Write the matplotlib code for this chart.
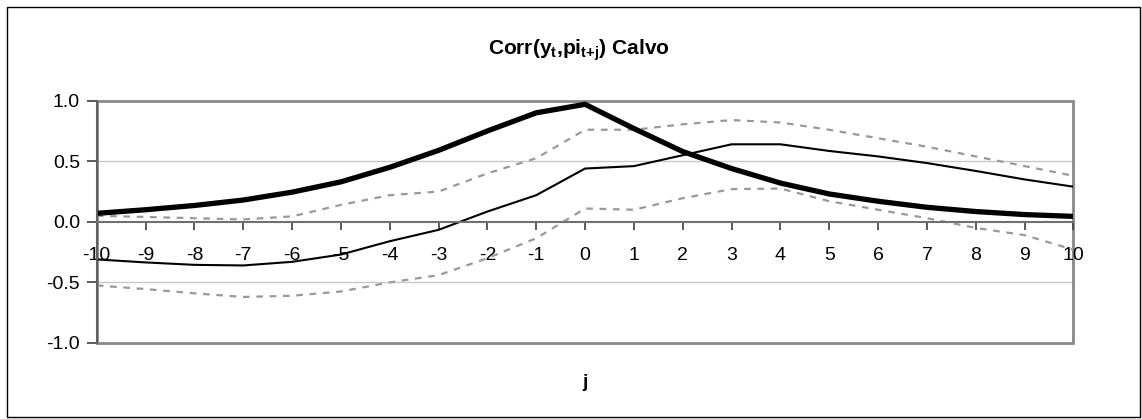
'''Corr(y_t, pi_t+j) for the Calvo model, Excel-style line chart.'''
import numpy as np
import matplotlib
matplotlib.use('Agg')
import matplotlib.pyplot as plt
from matplotlib.patches import Rectangle

plt.rcParams['font.family'] = ['Liberation Sans', 'DejaVu Sans']
plt.rcParams['axes.unicode_minus'] = False
plt.rcParams['mathtext.fontset'] = 'custom'
plt.rcParams['mathtext.rm'] = 'Liberation Sans:bold'
plt.rcParams['mathtext.it'] = 'Liberation Sans:bold'
plt.rcParams['mathtext.bf'] = 'Liberation Sans:bold'

j = np.arange(-10, 11)

# model correlation (thick line)
model = [0.07, 0.10, 0.135, 0.18, 0.245, 0.33, 0.45, 0.59, 0.75, 0.90, 0.97,
         0.77, 0.58, 0.44, 0.32, 0.23, 0.17, 0.12, 0.085, 0.06, 0.045]
# data correlation (thin line)
data = [-0.31, -0.335, -0.355, -0.36, -0.33, -0.27, -0.16, -0.066, 0.085, 0.22, 0.44,
        0.46, 0.55, 0.64, 0.64, 0.585, 0.54, 0.485, 0.42, 0.35, 0.29]
# confidence bands (dashed)
upper = [0.05, 0.04, 0.03, 0.02, 0.045, 0.14, 0.22, 0.25, 0.40, 0.525, 0.76,
         0.76, 0.805, 0.84, 0.82, 0.76, 0.69, 0.62, 0.54, 0.46, 0.38]
lower = [-0.525, -0.555, -0.59, -0.62, -0.61, -0.575, -0.50, -0.44, -0.30, -0.135, 0.11,
         0.10, 0.195, 0.27, 0.275, 0.17, 0.10, 0.03, -0.05, -0.11, -0.23]

fig = plt.figure(figsize=(11.42, 4.19), dpi=100)
ax = fig.add_axes([0.0847, 0.1814, 0.8553, 0.5783])

# figure border
fig.patches.append(Rectangle((7 / 1142, 2 / 419), 1133 / 1142, 410 / 419,
                             transform=fig.transFigure, fill=False,
                             edgecolor='black', linewidth=1.0))

for y in (-0.5, 0.5):
    ax.axhline(y, color='#c8c8c8', linewidth=1.0, zorder=0)

dash = (0, (3, 3))
ax.plot(j, upper, color='#999999', linewidth=1.6, linestyle=dash)
ax.plot(j, lower, color='#999999', linewidth=1.6, linestyle=dash)
ax.plot(j, data, color='black', linewidth=1.5)
ax.plot(j, model, color='black', linewidth=3.8)

ax.set_xlim(-10, 10)
ax.set_ylim(-1, 1)

# x axis crosses at zero
for s in ('top', 'right'):
    ax.spines[s].set_visible(False)
ax.spines['bottom'].set_position(('data', 0))
ax.spines['bottom'].set_color('#707070')
ax.spines['bottom'].set_linewidth(1.5)
ax.spines['left'].set_color('#606060')
ax.spines['left'].set_linewidth(1.5)
ax.add_patch(Rectangle((0, 0), 1, 1, transform=ax.transAxes, fill=False,
                       edgecolor='#888888', linewidth=2.0, clip_on=False, zorder=0.5))

ax.set_xticks(j)
ax.set_xticklabels([str(v) for v in j])
ax.set_yticks([-1.0, -0.5, 0.0, 0.5, 1.0])
ax.set_yticklabels(['%.1f' % v for v in [-1.0, -0.5, 0.0, 0.5, 1.0]])
ax.tick_params(axis='x', direction='out', length=6, width=1.2, color='#404040',
               pad=12, labelsize=14)
ax.tick_params(axis='y', direction='out', length=7, width=1.2, color='#404040',
               pad=5, labelsize=14)

fig.text(0.507, 0.881, r'Corr(y$_{t}$,pi$_{t{+}j}$) Calvo', ha='center', va='center',
         fontsize=15, fontweight='bold')
fig.text(0.512, 0.086, 'j', ha='center', va='center', fontsize=14, fontweight='bold')

fig.savefig('out.png', dpi=100)
